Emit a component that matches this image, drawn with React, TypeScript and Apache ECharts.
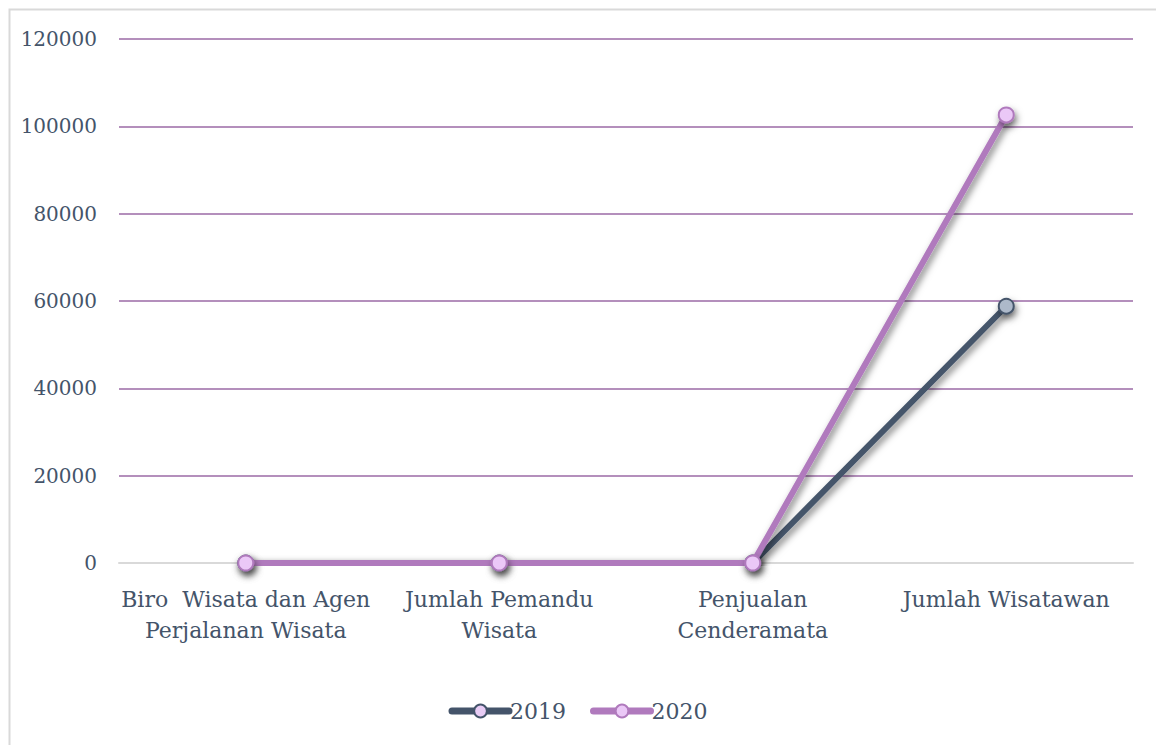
import React, { useEffect, useRef } from "react";
import * as echarts from "echarts";

const categories = [
  "Biro  Wisata dan Agen\nPerjalanan Wisata",
  "Jumlah Pemandu\nWisata",
  "Penjualan\nCenderamata",
  "Jumlah Wisatawan",
];
const values2019 = [0, 0, 0, 58800];
const values2020 = [0, 0, 0, 102600];
const yTicks = { min: 0, max: 120000, interval: 20000 };

const FONT = "DejaVu Serif";
const TEXT = "#44546A";

export default function App() {
  const ref = useRef<HTMLDivElement>(null);
  useEffect(() => {
    if (!ref.current) return;
    const chart = echarts.init(ref.current, undefined, { renderer: "svg" });
    const shadow = {
      shadowColor: "rgba(0,0,0,0.5)",
      shadowBlur: 7,
      shadowOffsetX: 2,
      shadowOffsetY: 4,
    };
    chart.setOption({
      animation: false,
      backgroundColor: "#ffffff",
      textStyle: { fontFamily: FONT },
      graphic: [
        {
          type: "rect",
          shape: { x: 9.5, y: 9.5, width: 1160, height: 760 },
          style: { fill: "none", stroke: "#D9D9D9", lineWidth: 2 },
          silent: true,
          z: 0,
        },
      ],
      grid: { left: 119, right: 23, top: 39, bottom: 182 },
      legend: {
        bottom: 18,
        left: "center",
        itemWidth: 57,
        itemHeight: 16,
        itemGap: 24,
        lineStyle: { width: 7, cap: "round", shadowBlur: 0, shadowOffsetX: 0, shadowOffsetY: 0 },
        itemStyle: { shadowBlur: 0, shadowOffsetX: 0, shadowOffsetY: 0 },
        textStyle: { color: TEXT, fontSize: 22, fontFamily: FONT, padding: [0, 0, 0, -4] },
        data: [
          { name: "2019", itemStyle: { color: "#E8CCF5" } },
          { name: "2020" },
        ],
      },
      xAxis: {
        type: "category",
        data: categories,
        boundaryGap: true,
        axisLine: { show: true, lineStyle: { color: "#D9D9D9", width: 2 } },
        axisTick: { show: false },
        axisLabel: {
          color: TEXT,
          fontSize: 22,
          fontFamily: FONT,
          lineHeight: 31,
          margin: 21,
          interval: 0,
        },
      },
      yAxis: {
        type: "value",
        min: yTicks.min,
        max: yTicks.max,
        interval: yTicks.interval,
        axisLine: { show: false },
        axisTick: { show: false },
        axisLabel: {
          color: TEXT,
          fontSize: 20,
          fontFamily: FONT,
          margin: 22,
          formatter: (v: number) => String(v),
        },
        splitLine: { lineStyle: { color: "#9B6AA6", width: 1.5 } },
      },
      series: [
        {
          name: "2019",
          type: "line",
          data: values2019,
          symbol: "circle",
          symbolSize: 15,
          lineStyle: { color: "#44546A", width: 6, cap: "round", ...shadow },
          itemStyle: { color: "#ADB9CA", borderColor: "#44546A", borderWidth: 2, ...shadow },
          z: 2,
        },
        {
          name: "2020",
          type: "line",
          data: values2020,
          symbol: "circle",
          symbolSize: 15,
          lineStyle: { color: "#B07ABD", width: 6, cap: "round", ...shadow },
          itemStyle: { color: "#EBC8F7", borderColor: "#B07ABD", borderWidth: 2, ...shadow },
          z: 3,
        },
      ],
    });
    return () => chart.dispose();
  }, []);
  return (
    <div
      ref={ref}
      style={{ position: "absolute", left: 0, top: 0, width: 1156, height: 745 }}
    />
  );
}
